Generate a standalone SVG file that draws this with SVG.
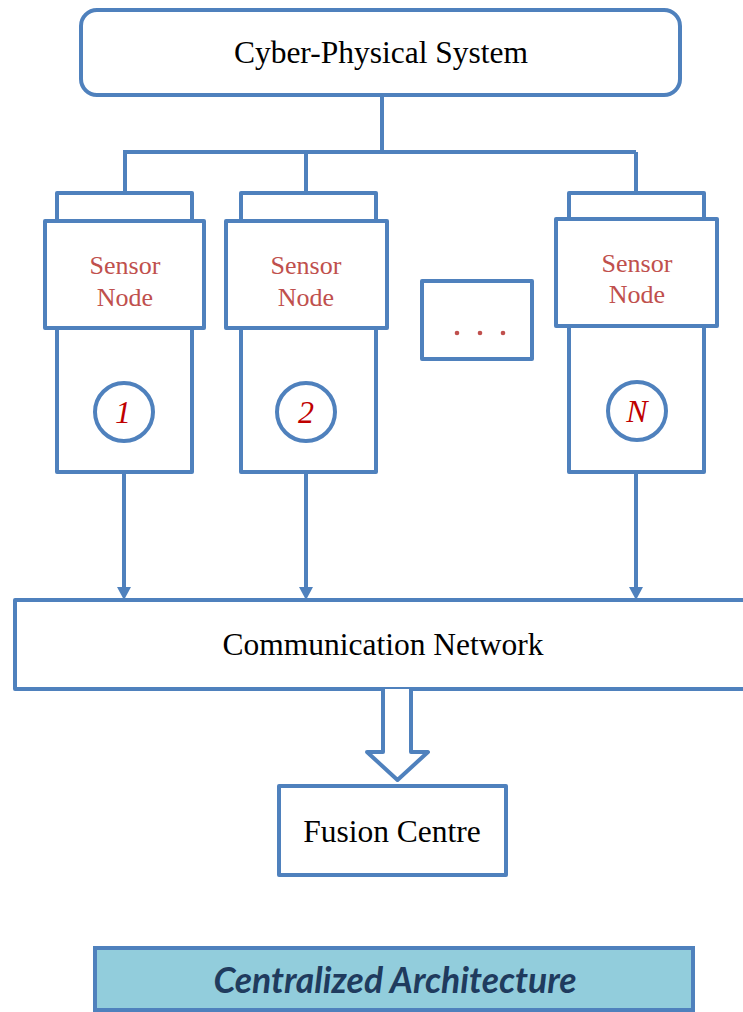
<svg xmlns="http://www.w3.org/2000/svg" width="743" height="1012" viewBox="0 0 743 1012">
<style>
.b{fill:#fff;stroke:#4F81BD;stroke-width:4;stroke-linejoin:round}
.ln{fill:none;stroke:#4F81BD;stroke-width:4}
.t{font-family:"Liberation Serif","Times New Roman",serif;font-size:31.5px;fill:#000;text-anchor:middle}
.s{font-family:"Liberation Serif","Times New Roman",serif;font-size:26px;fill:#C0504D;text-anchor:middle}
.n{font-family:"Liberation Serif","Times New Roman",serif;font-size:32px;font-style:italic;fill:#C00000;text-anchor:middle}
.ah{fill:#4F81BD}
</style>
<rect width="743" height="1012" fill="#fff"/>
<g id="connectors">
<path class="ln" d="M382,95 V152 M125,152 H636 M125,150 V193 M306,152 V193 M636,152 V193"/>
<path class="ln" d="M124,472 V588 M306,472 V588 M636,472 V588"/>
<polygon class="ah" points="117,587 131,587 124,600"/>
<polygon class="ah" points="299,587 313,587 306,600"/>
<polygon class="ah" points="629,587 643,587 636,600"/>
</g>
<g id="cps">
<rect class="b" x="81" y="10" width="599" height="85" rx="16"/>
<text class="t" x="381" y="63">Cyber-Physical System</text>
</g>
<g id="sensor1">
<rect class="b" x="57" y="193" width="135" height="28"/>
<rect class="b" x="57" y="328" width="135" height="144"/>
<rect class="b" x="45" y="221" width="159" height="107"/>
<text class="s" x="125" y="274">Sensor</text>
<text class="s" x="125" y="306">Node</text>
<circle class="b" cx="124" cy="412" r="29"/>
<text class="n" x="123" y="423">1</text>
</g>
<g id="sensor2">
<rect class="b" x="241" y="193" width="135" height="28"/>
<rect class="b" x="241" y="328" width="135" height="144"/>
<rect class="b" x="226" y="221" width="161" height="107"/>
<text class="s" x="306" y="274">Sensor</text>
<text class="s" x="306" y="306">Node</text>
<circle class="b" cx="306" cy="412" r="29"/>
<text class="n" x="306" y="423">2</text>
</g>
<g id="dots">
<rect class="b" x="422" y="281" width="110" height="78"/>
<circle cx="457" cy="333" r="2.3" fill="#C0504D"/>
<circle cx="480" cy="333" r="2.3" fill="#C0504D"/>
<circle cx="503" cy="333" r="2.3" fill="#C0504D"/>
</g>
<g id="sensorN">
<rect class="b" x="569" y="193" width="135" height="26"/>
<rect class="b" x="569" y="326" width="135" height="146"/>
<rect class="b" x="556" y="219" width="161" height="107"/>
<text class="s" x="637" y="272">Sensor</text>
<text class="s" x="637" y="303">Node</text>
<circle class="b" cx="637" cy="411" r="29"/>
<text class="n" x="637" y="422">N</text>
</g>
<g id="comm">
<rect class="b" x="15" y="600" width="740" height="89"/>
<text class="t" x="383" y="655">Communication Network</text>
</g>
<g id="bigarrow">
<path class="b" d="M383,689 V752 H367 L397.5,780 L428,752 H411 V689"/>
</g>
<g id="fusion">
<rect class="b" x="279" y="786" width="227" height="89"/>
<text class="t" x="392" y="842">Fusion Centre</text>
</g>
<g id="label">
<rect x="95" y="948" width="598" height="62" fill="#92CDDC" stroke="#4F81BD" stroke-width="4"/>
<text x="395" y="993" font-family="Lato,'Open Sans',sans-serif" font-weight="bold" font-style="italic" font-size="35.5" fill="#1F3B5E" text-anchor="middle">Centralized Architecture</text>
</g>
</svg>
